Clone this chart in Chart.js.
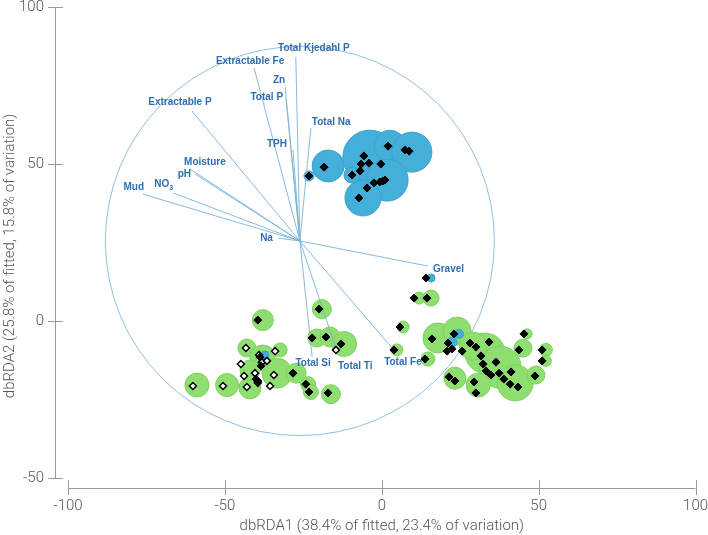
<!DOCTYPE html>
<html lang="en">
<head>
<meta charset="UTF-8" />
<title>dbRDA</title>
<script src="https://cdn.jsdelivr.net/npm/chart.js"></script>
<style>
  html, body { margin: 0; padding: 0; background: #fff; }
  .wrap { width: 708px; height: 535px; position: relative; }
</style>
</head>
<body>
<div class="wrap"><canvas id="rda"></canvas></div>
<script>
// axis ticks
const xTicks = [-100, -50, 0, 50, 100];
const yTicks = [-50, 0, 50, 100];

// predictor vectors (end points, all start from the same origin)
const vectorNames = ["Mud", "NO3", "pH", "Moisture", "Na", "Extractable P", "Extractable Fe", "Zn",
  "Total P", "Total Kjedahl P", "TPH", "Total Na", "Gravel", "Total Fe", "Total Ti", "Total Si"];
const vectorX = [-76.1, -66.5, -59.5, -61.1, -33.1, -60.5, -40.7, -30.8, -30.5, -27.4, -28.3, -22.6, 14.7, 3.3, -14.3, -22.2];
const vectorY = [40.4, 40.8, 46.8, 48.4, 26.4, 66.9, 80.6, 74.5, 70.7, 84.1, 54.5, 61.5, 17.5, -8.6, -9.6, -11.5];
const vectorOrigin = [-26.1, 25.5];
const circleRadius = 62;

// green bubbles
const greenX = [-37.9, -58.9, -49.3, -42.0, -43.0, -32.4, -37.9, -33.4, -42.0, -27.3, -23.5, -22.6, -16.2,
  -19.1, -20.7, -16.5, -12.0, 4.8, 6.8, 11.9, 15.7, 14.7, 17.9, 24.0, 32.9, 37.7, 42.5, 23.3, 30.7,
  45.0, 49.1, 46.3, 52.3, 52.3, 29.1];
const greenY = [0.3, -20.4, -20.4, -21.3, -8.6, -9.2, -11.8, -16.6, -15.6, -16.6, -20.1, -22.6, -23.3,
  3.8, -5.4, -5.1, -7.3, -9.2, -1.9, 7.3, 7.3, -12.1, -5.4, -3.2, -10.2, -14.7, -19.7, -18.2, -20.4,
  -8.6, -17.2, -4.1, -9.2, -12.7, -8.0];
const greenSize = [10.5, 12, 11.5, 11, 9, 7, 13, 15, 10, 10, 7.5, 7.5, 9.5,
  9.5, 9, 10, 12.5, 6, 6, 6, 8, 7, 15, 14, 20, 21, 18, 11, 12,
  9, 9, 5, 6.5, 5.5, 14];

// blue bubbles
const blueX = [-17.1, -23.2, -3.8, 2.6, 9.6, 1.7, -6.0, -9.5, 15.7, 24.6, 22.4, -37.2];
const blueY = [49.4, 46.2, 52.2, 55.7, 53.8, 44.9, 39.2, 46.5, 13.7, -4.1, -6.7, -10.8];
const blueSize = [16, 5, 27, 16, 20, 21, 18, 8, 4, 4.5, 5, 4];

// sample markers
const blackX = [-23.2, -18.4, -5.7, -6.6, -4.1, -6.9, -9.5, -0.3, 2.0, 7.4, 8.7, -2.5, -0.6, 0.4, 1.0, -4.7, -7.3,
  -39.5, -20.0, -22.2, -17.8, -13.0, -28.3, -24.2, -23.2, -17.1, -38.8, -38.5, -40.1, -39.5,
  14.1, 10.3, 14.4, 5.8, 3.9, 13.8, 16.0, 23.0, 21.1, 20.8, 22.4, 25.6, 28.1, 30.0, 34.2, 31.6,
  32.3, 36.4, 33.2, 34.8, 37.4, 38.9, 41.2, 40.9, 43.4, 21.4, 23.3, 29.4, 30.0, 45.3, 43.7, 48.8, 51.1, 51.1];
const blackY = [46.2, 49.0, 52.6, 50.0, 50.3, 47.8, 46.5, 50.0, 55.7, 54.5, 54.1, 44.0, 44.3, 44.6, 44.9, 42.4, 39.2,
  0.3, 3.8, -5.4, -5.1, -7.3, -16.6, -20.1, -22.6, -22.9, -11.5, -14.3, -18.5, -19.1,
  13.7, 7.3, 7.3, -1.9, -9.2, -12.1, -5.7, -4.1, -7.0, -9.6, -8.9, -9.6, -7.0, -8.3, -6.7, -11.1,
  -13.7, -13.1, -15.9, -17.2, -16.6, -18.5, -16.2, -20.1, -21.0, -17.8, -19.1, -19.4, -22.9, -4.1, -9.2, -17.5, -9.2, -12.7];
const whiteX = [-60.2, -50.6, -43.3, -44.9, -43.9, -43.0, -40.4, -38.2, -36.6, -34.0, -34.4, -35.6, -39.1, -39.5, -14.6];
const whiteY = [-20.7, -20.7, -8.6, -13.7, -17.5, -21.0, -16.6, -13.1, -12.7, -9.6, -17.2, -20.7, -10.8, -19.7, -9.2];

// label placement: [textAlign, dx, dy] in pixels from the vector end
const labelPlace = {
  "Mud": ["right", 1, -7], "NO3": ["right", 0, -9], "pH": ["right", -4, 0], "Moisture": ["left", -6, -7],
  "Na": ["right", -5, 0], "Extractable P": ["center", -12, -9], "Extractable Fe": ["center", -4, -7],
  "Zn": ["right", 0, -7], "Total P": ["right", -3, -2], "Total Kjedahl P": ["center", 18, -9],
  "TPH": ["right", -6, -6], "Total Na": ["left", 1, -6], "Gravel": ["left", 5, 3],
  "Total Fe": ["left", -8, 14], "Total Ti": ["left", 1, 15], "Total Si": ["center", 1, 6]
};

const pts = (xs, ys, rs) => xs.map((x, i) => rs ? { x, y: ys[i], r: rs[i] } : { x, y: ys[i] });

const vectorSets = vectorNames.map((name, i) => ({
  type: "line",
  label: name,
  data: [{ x: vectorOrigin[0], y: vectorOrigin[1] }, { x: vectorX[i], y: vectorY[i] }],
  borderColor: "rgba(120,180,220,0.9)",
  borderWidth: 1,
  pointRadius: 0,
  order: 2,
}));

const refCircle = {
  id: "refCircle",
  beforeDatasetsDraw(chart) {
    const { ctx, scales: { x, y } } = chart;
    const cx = x.getPixelForValue(vectorOrigin[0]);
    const cy = y.getPixelForValue(vectorOrigin[1]);
    const r = x.getPixelForValue(vectorOrigin[0] + circleRadius) - cx;
    ctx.save();
    ctx.strokeStyle = "rgba(130,185,225,0.9)";
    ctx.lineWidth = 1;
    ctx.beginPath();
    ctx.arc(cx, cy, r, 0, Math.PI * 2);
    ctx.stroke();
    ctx.restore();
  },
};

const vectorLabels = {
  id: "vectorLabels",
  afterDatasetsDraw(chart) {
    const { ctx, scales: { x, y } } = chart;
    const big = "bold 10px 'Liberation Sans', Arial, sans-serif";
    const small = "bold 7px 'Liberation Sans', Arial, sans-serif";
    ctx.save();
    ctx.fillStyle = "#2f6db0";
    ctx.font = big;
    ctx.textBaseline = "middle";
    vectorNames.forEach((name, i) => {
      const [align, dx, dy] = labelPlace[name];
      const px = x.getPixelForValue(vectorX[i]) + dx;
      const py = y.getPixelForValue(vectorY[i]) + dy;
      if (name === "NO3") {
        ctx.font = big;
        const w1 = ctx.measureText("NO").width;
        ctx.font = small;
        const w2 = ctx.measureText("3").width;
        const left = align === "right" ? px - w1 - w2 : px;
        ctx.textAlign = "left";
        ctx.font = big;
        ctx.fillText("NO", left, py);
        ctx.font = small;
        ctx.fillText("3", left + w1, py + 4);
        ctx.font = big;
        return;
      }
      ctx.textAlign = align;
      ctx.fillText(name, px, py);
    });
    ctx.restore();
  },
};

// axes are drawn detached from the plot box, as in the original figure
const detachedAxes = {
  id: "detachedAxes",
  afterDraw(chart) {
    const { ctx, scales: { x, y } } = chart;
    const x0 = x.getPixelForValue(xTicks[0]);
    const y0 = y.getPixelForValue(yTicks[0]);
    const axisX = x0 - 13;
    const axisY = y0 + 10;
    ctx.save();
    ctx.strokeStyle = "#9a9a9a";
    ctx.lineWidth = 1;
    ctx.beginPath();
    ctx.moveTo(axisX + 0.5, y.getPixelForValue(yTicks[yTicks.length - 1]));
    ctx.lineTo(axisX + 0.5, y0);
    ctx.moveTo(x0, axisY + 0.5);
    ctx.lineTo(x.getPixelForValue(xTicks[xTicks.length - 1]), axisY + 0.5);
    yTicks.forEach(v => {
      const py = Math.round(y.getPixelForValue(v)) + 0.5;
      ctx.moveTo(axisX - 7, py);
      ctx.lineTo(axisX + 8, py);
    });
    xTicks.forEach(v => {
      const px = Math.round(x.getPixelForValue(v)) + 0.5;
      ctx.moveTo(px, axisY - 8);
      ctx.lineTo(px, axisY + 7);
    });
    ctx.stroke();

    ctx.fillStyle = "#555";
    ctx.font = "300 15px Roboto, 'Liberation Sans', Arial, sans-serif";
    ctx.textBaseline = "middle";
    ctx.textAlign = "right";
    yTicks.forEach(v => ctx.fillText(String(v), axisX - 11, y.getPixelForValue(v)));
    ctx.textAlign = "center";
    xTicks.forEach(v => ctx.fillText(String(v), x.getPixelForValue(v), axisY + 18));

    ctx.fillText("dbRDA1 (38.4% of fitted, 23.4% of variation)", x.getPixelForValue(0), 526);
    ctx.translate(10, 256);
    ctx.rotate(-Math.PI / 2);
    ctx.fillText("dbRDA2 (25.8% of fitted, 15.8% of variation)", 0, 0);
    ctx.restore();
  },
};

new Chart(document.getElementById("rda"), {
  type: "bubble",
  data: {
    datasets: [
      {
        type: "scatter",
        label: "black",
        data: pts(blackX, blackY),
        pointStyle: "rectRot",
        pointRadius: 4,
        backgroundColor: "#000",
        borderColor: "#000",
        borderWidth: 1,
        order: 0,
      },
      {
        type: "scatter",
        label: "white",
        data: pts(whiteX, whiteY),
        pointStyle: "rectRot",
        pointRadius: 3.5,
        backgroundColor: "#fff",
        borderColor: "#000",
        borderWidth: 1.5,
        order: 1,
      },
      ...vectorSets,
      {
        label: "blue",
        data: pts(blueX, blueY, blueSize),
        backgroundColor: "rgb(68,176,217)",
        borderColor: "rgb(58,160,205)",
        borderWidth: 1,
        order: 3,
      },
      {
        label: "green",
        data: pts(greenX, greenY, greenSize),
        backgroundColor: "rgb(142,222,112)",
        borderColor: "rgb(126,208,96)",
        borderWidth: 1,
        order: 4,
      },
    ],
  },
  options: {
    responsive: true,
    maintainAspectRatio: false,
    animation: false,
    events: [],
    // the bubble controller forces >= 28px of padding; keep it fixed at 30
    // and extend the scale tops so 100 still lands where the figure puts it
    layout: { padding: { left: 68, right: 30, top: 30, bottom: 57 } },
    scales: {
      x: { type: "linear", min: -100, max: 94.4, display: false },
      y: { type: "linear", min: -50, max: 92.7, display: false },
    },
    plugins: { legend: { display: false }, tooltip: { enabled: false } },
  },
  plugins: [refCircle, vectorLabels, detachedAxes],
});
</script>
</body>
</html>
